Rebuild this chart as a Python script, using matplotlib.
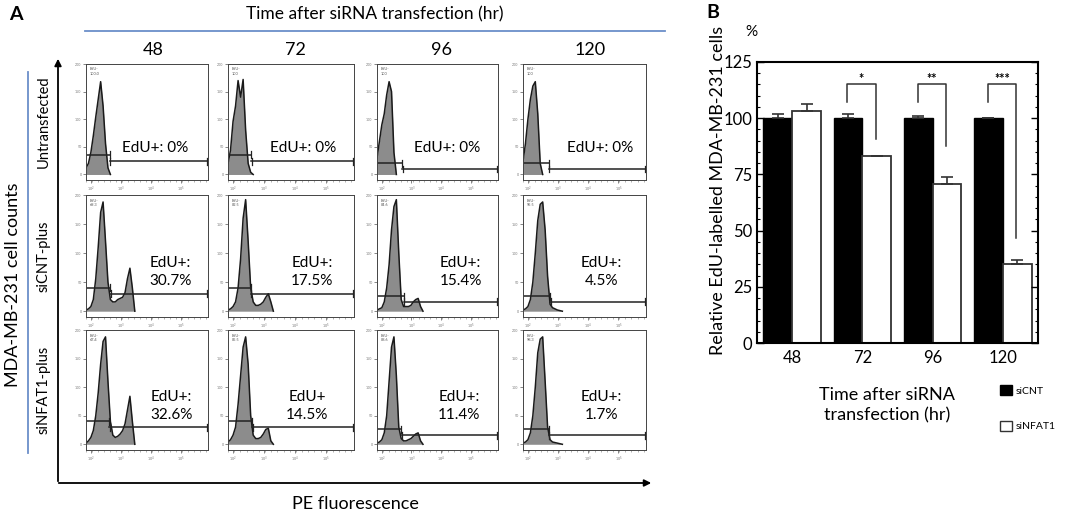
import numpy as np
import matplotlib
matplotlib.use("Agg")
import matplotlib.pyplot as plt
from matplotlib.patches import Patch

plt.rcParams['font.family'] = ['Lato', 'DejaVu Sans']

# ---------------- data ----------------
# Panel A: flow-cytometry histograms (normalised channel position 0..0.40, relative counts)
CHANNEL = [0.00, 0.02, 0.04, 0.06, 0.08, 0.10, 0.12, 0.14, 0.16, 0.18, 0.20,
           0.22, 0.24, 0.26, 0.28, 0.30, 0.32, 0.34, 0.36, 0.38, 0.40]
TIMES = ['48', '72', '96', '120']
ROW_LABELS = ['Untransfected', 'siCNT-plus', 'siNFAT1-plus']

untr_48 = [6, 10, 20, 35, 52, 68, 84, 62, 28, 6, 0, 0, 0, 0, 0, 0, 0, 0, 0, 0, 0]
untr_72 = [10, 22, 48, 62, 85, 70, 86, 40, 10, 2, 0, 0, 0, 0, 0, 0, 0, 0, 0, 0, 0]
untr_96 = [15, 30, 45, 55, 72, 84, 75, 20, 0, 0, 0, 0, 0, 0, 0, 0, 0, 0, 0, 0, 0]
untr_120 = [12, 28, 50, 68, 80, 84, 55, 10, 0, 0, 0, 0, 0, 0, 0, 0, 0, 0, 0, 0, 0]
sicnt_48 = [1, 2, 4, 10, 28, 55, 85, 94, 60, 25, 10, 8, 8, 10, 11, 12, 16, 28, 37, 20, 0]
sicnt_72 = [1, 2, 4, 8, 20, 45, 80, 96, 60, 20, 8, 5, 5, 6, 8, 12, 15, 8, 0, 0, 0]
sicnt_96 = [1, 2, 3, 8, 20, 40, 70, 90, 96, 50, 10, 4, 4, 4, 5, 8, 10, 11, 4, 0, 0]
sicnt_120 = [1, 2, 4, 10, 25, 50, 78, 92, 94, 70, 30, 6, 3, 2, 1, 0.5, 0, 0, 0, 0, 0]
sinfat_48 = [1, 3, 6, 12, 25, 45, 70, 90, 94, 55, 20, 8, 6, 7, 9, 12, 18, 30, 42, 20, 0]
sinfat_72 = [2, 4, 8, 15, 35, 60, 85, 94, 70, 25, 8, 5, 5, 6, 9, 13, 14, 3, 0, 0, 0]
sinfat_96 = [1, 2, 4, 10, 25, 55, 85, 94, 60, 15, 5, 3, 3, 4, 5, 7, 9, 10, 3, 0, 0]
sinfat_120 = [1, 2, 4, 10, 25, 50, 80, 92, 94, 55, 15, 4, 2, 1.5, 1, 0.5, 0, 0, 0, 0, 0]

HISTS = [[untr_48, untr_72, untr_96, untr_120],
         [sicnt_48, sicnt_72, sicnt_96, sicnt_120],
         [sinfat_48, sinfat_72, sinfat_96, sinfat_120]]

# gates (EdU- bracket level, EdU+ bracket level, split position)
GATE_NEG = [[18, 18, 10, 10], [20, 20, 13, 13], [20, 20, 13, 13]]
GATE_POS = [[12, 12, 5, 5], [15, 15, 8, 8], [15, 15, 8, 8]]
GATE_SPLIT = [[0.195, 0.185, 0.21, 0.21], [0.20, 0.18, 0.22, 0.22], [0.19, 0.19, 0.20, 0.21]]
EDU_NEG = [['100.0', '100', '100', '100'],
           ['69.3', '82.5', '84.6', '95.5'],
           ['67.4', '85.5', '88.6', '98.3']]
EDU_POS = [['EdU+: 0%', 'EdU+: 0%', 'EdU+: 0%', 'EdU+: 0%'],
           ['EdU+:\n30.7%', 'EdU+:\n17.5%', 'EdU+:\n15.4%', 'EdU+:\n4.5%'],
           ['EdU+:\n32.6%', 'EdU+\n14.5%', 'EdU+:\n11.4%', 'EdU+:\n1.7%']]

# Panel B: bar chart
B_TIMES = ['48', '72', '96', '120']
siCNT = [100, 100, 100, 100]
siCNT_err = [2, 2, 1, 0]
siNFAT1 = [103, 83, 70.7, 35]
siNFAT1_err = [3.5, 0, 3.3, 2]
SIG_LABELS = ['*', '**', '***']
SIG_GROUPS = [1, 2, 3]
SIG_RIGHT_END = [90.7, 87.7, 46.5]

# ---------------- figure ----------------
W, H = 1065, 517
fig = plt.figure(figsize=(W / 100, H / 100), dpi=100)


def px_axes(x0, y0, x1, y1, **kw):
    return fig.add_axes([x0 / W, 1 - y1 / H, (x1 - x0) / W, (y1 - y0) / H], **kw)


def ftext(x, y, s, **kw):
    fig.text(x / W, 1 - y / H, s, **kw)


# overlay for lines/arrows
ov = px_axes(0, 0, W, H)
ov.set_xlim(0, W)
ov.set_ylim(H, 0)
ov.axis('off')
blue = '#6b8fc9'
ov.plot([85, 665], [31, 31], color=blue, lw=1.3)
ov.plot([28, 28], [72, 453], color=blue, lw=1.3)
ov.annotate('', xy=(58, 56), xytext=(58, 484),
            arrowprops=dict(arrowstyle='-|>', lw=1.3, color='black', mutation_scale=10))
ov.annotate('', xy=(654, 483), xytext=(56, 483),
            arrowprops=dict(arrowstyle='-|>', lw=1.3, color='black', mutation_scale=10))

ftext(16, 15, 'A', fontsize=14, fontweight='bold', ha='center', va='center')
ftext(375, 14, 'Time after siRNA transfection (hr)', fontsize=12.5, ha='center', va='center')
ftext(355, 504, 'PE fluorescence', fontsize=13, ha='center', va='center')
ftext(13, 285, 'MDA-MB-231 cell counts', fontsize=13, ha='center', va='center', rotation=90)

COLS = [(86, 208), (228, 354), (377, 498), (523, 646)]
ROWS = [(64, 180), (195, 317), (330, 450)]
COL_HEAD_X = [153, 295, 442, 590]
for t, cx in zip(TIMES, COL_HEAD_X):
    ftext(cx, 50, t, fontsize=13, ha='center', va='center')
for lab, (r0, r1) in zip(ROW_LABELS, ROWS):
    ftext(44, (r0 + r1) / 2, lab, fontsize=10.5, ha='center', va='center', rotation=90)

TEXT_X = [[0.57, 0.60, 0.58, 0.63], [0.69, 0.67, 0.69, 0.64], [0.70, 0.63, 0.68, 0.64]]
TEXT_Y = [0.28, 0.37, 0.37]

x = np.array(CHANNEL)
for r, (r0, r1) in enumerate(ROWS):
    for c, (c0, c1) in enumerate(COLS):
        ax = px_axes(c0, r0, c1, r1)
        y = np.array(HISTS[r][c], dtype=float)
        last = int(np.nonzero(y)[0][-1]) + 2
        xs, ys = x[:last], y[:last]
        ax.fill_between(xs, ys, 0, color='#8c8c8c', lw=0)
        ax.plot(xs, ys, color='#1a1a1a', lw=1.1)
        sp = GATE_SPLIT[r][c]
        gn, gp = GATE_NEG[r][c], GATE_POS[r][c]
        ax.plot([0.0, sp], [gn, gn], color='#222222', lw=1.1)
        ax.plot([sp, sp], [gn - 3, gn + 3], color='#222222', lw=0.9)
        ax.plot([sp, 1.0], [gp, gp], color='#222222', lw=1.1)
        ax.plot([sp + 0.005, sp + 0.005], [gp - 3, gp + 3], color='#222222', lw=0.9)
        ax.plot([0.995, 0.995], [gp - 3, gp + 3], color='#222222', lw=0.9)
        ax.set_xlim(0, 1)
        ax.set_ylim(-5, 100)
        ax.set_xticks([0.04, 0.285, 0.53, 0.775])
        ax.set_xticklabels(['10$^2$', '10$^3$', '10$^4$', '10$^5$'])
        ax.set_xticks(np.arange(0.0, 1.0, 0.049), minor=True)
        ax.set_yticks([0, 25, 50, 75, 100])
        ax.set_yticklabels(['0', '50', '100', '150', '200'])
        ax.tick_params(axis='both', which='major', length=2.2, width=0.5, color='#555555',
                       labelsize=2.6, labelcolor='#777777', pad=1)
        ax.tick_params(axis='x', which='minor', length=1.2, width=0.4, color='#777777')
        for s in ax.spines.values():
            s.set_linewidth(0.7)
            s.set_color('#444444')
        ax.text(0.03, 0.97, 'EdU-\n' + EDU_NEG[r][c], transform=ax.transAxes,
                fontsize=2.8, va='top', ha='left', color='#555555', linespacing=1.1)
        ax.text(TEXT_X[r][c], TEXT_Y[r], EDU_POS[r][c], transform=ax.transAxes,
                fontsize=11, ha='center', va='center', linespacing=1.35)

# ---------------- Panel B ----------------
axb = px_axes(757, 62, 1038, 343)
xb = np.arange(len(B_TIMES))
bw = 0.41
axb.bar(xb - bw / 2, siCNT, width=bw, color='black', edgecolor='black', lw=1.0)
axb.bar(xb + bw / 2, siNFAT1, width=bw, color='white', edgecolor='#333333', lw=1.3)
axb.errorbar(xb - bw / 2, siCNT, yerr=[np.zeros(4), siCNT_err], fmt='none',
             ecolor='#333333', elinewidth=1.2, capsize=4, capthick=1.2)
axb.errorbar(xb + bw / 2, siNFAT1, yerr=[np.zeros(4), siNFAT1_err], fmt='none',
             ecolor='#333333', elinewidth=1.2, capsize=4, capthick=1.2)
for g, lab, rend in zip(SIG_GROUPS, SIG_LABELS, SIG_RIGHT_END):
    xl, xr = g - 0.215, g + 0.19
    axb.plot([xl, xl, xr, xr], [107, 115, 115, rend], color='#333333', lw=1.1)
    axb.text((xl + xr) / 2, 117.5, lab, ha='center', va='center', fontsize=9, fontweight='bold')
axb.set_xlim(-0.5, 3.5)
axb.set_ylim(0, 125)
axb.set_yticks([0, 25, 50, 75, 100, 125])
axb.set_yticks(np.arange(0, 126, 5), minor=True)
axb.set_xticks(xb)
axb.set_xticklabels(B_TIMES)
axb.tick_params(axis='y', which='both', direction='in', left=True, right=True, labelsize=12)
axb.tick_params(axis='y', which='major', length=5, width=1.0)
axb.tick_params(axis='y', which='minor', length=2.5, width=0.8)
axb.tick_params(axis='x', length=0, labelsize=12, pad=5)
for s in axb.spines.values():
    s.set_linewidth(1.5)

ftext(713, 13, 'B', fontsize=14, fontweight='bold', ha='center', va='center')
ftext(751, 32, '%', fontsize=11, ha='center', va='center')
ftext(718, 190, 'Relative EdU-labelled MDA-MB-231 cells', fontsize=13,
      ha='center', va='center', rotation=90)
ftext(887, 405, 'Time after siRNA\ntransfection (hr)', fontsize=13, ha='center',
      va='center', linespacing=1.3)

handles = [Patch(facecolor='black', edgecolor='black', label='siCNT'),
           Patch(facecolor='white', edgecolor='#333333', label='siNFAT1')]
fig.legend(handles=handles, loc='upper left', bbox_to_anchor=(995 / W, 1 - 380 / H),
           frameon=False, fontsize=7.5, handlelength=1.1, handleheight=1.1,
           labelspacing=2.4, handletextpad=0.4, borderpad=0)

fig.savefig('out.png', dpi=100)
